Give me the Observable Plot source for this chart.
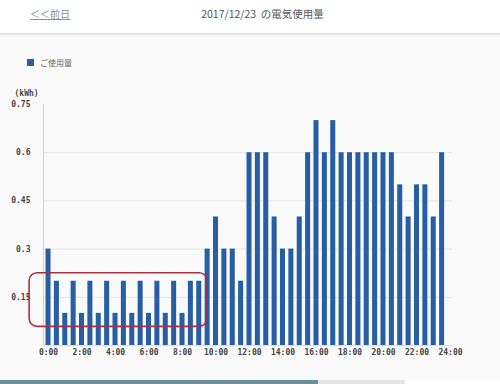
<!DOCTYPE html>
<html>
<head>
<meta charset="utf-8">
<script src="https://cdn.jsdelivr.net/npm/d3@7"></script>
<script src="https://cdn.jsdelivr.net/npm/@observablehq/plot@0.6"></script>
<style>
  html, body { margin: 0; padding: 0; width: 500px; height: 384px; overflow: hidden; background: #fff; font-family: "Noto Sans CJK JP", sans-serif; }
  #header { position: absolute; left: 0; top: 0; width: 500px; height: 33px; background: #fff; }
  #prev { position: absolute; left: 30px; top: 6px; font-size: 10px; color: #8a8f99; text-decoration: underline; }
  #title { position: absolute; left: 0; width: 525px; top: 6px; text-align: center; font-size: 10.5px; color: #555; }
  #panel { position: absolute; left: 0; top: 33px; width: 500px; height: 345px; background: #fafafa; border-top: 2px solid #e3e3e3; }
  #legend { position: absolute; left: 27px; top: 57px; font-size: 8px; color: #666; display: flex; align-items: center; }
  #legend .sw { width: 7px; height: 7px; background: #285ea3; margin-right: 6px; }
  #chart { position: absolute; left: 0; top: 80px; }
  #strip1 { position: absolute; left: 0; top: 380px; width: 318px; height: 4px; background: #6c8f98; }
  #strip2 { position: absolute; left: 318px; top: 380px; width: 87px; height: 4px; background: #e6e6e6; }
</style>
</head>
<body>
<div id="header">
  <div id="prev">＜＜前日</div>
  <div id="title">2017/12/23&nbsp;&nbsp;の電気使用量</div>
</div>
<div id="panel"></div>
<div id="legend"><div class="sw"></div><span>ご使用量</span></div>
<div id="chart"></div>
<div id="strip1"></div><div id="strip2"></div>
<script>
// Half-hour slots (hours since midnight)
const hours = [0,0.5,1,1.5,2,2.5,3,3.5,4,4.5,5,5.5,6,6.5,7,7.5,8,8.5,9,9.5,10,10.5,11,11.5,
               12,12.5,13,13.5,14,14.5,15,15.5,16,16.5,17,17.5,18,18.5,19,19.5,20,20.5,21,21.5,22,22.5,23,23.5];
// Usage (kWh) per half-hour
const usage = [0.3,0.2,0.1,0.2,0.1,0.2,0.1,0.2,0.1,0.2,0.1,0.2,0.1,0.2,0.1,0.2,0.1,0.2,0.2,0.3,0.4,0.3,0.3,0.2,
               0.6,0.6,0.6,0.4,0.3,0.3,0.4,0.6,0.7,0.6,0.7,0.6,0.6,0.6,0.6,0.6,0.6,0.6,0.5,0.4,0.5,0.5,0.4,0.6];
const xTicks = [0,2,4,6,8,10,12,14,16,18,20,22,24];
const yTicks = [0.15,0.3,0.45,0.6,0.75];
const yGrid = [0.15,0.3,0.45,0.6];
const xDomain = [-0.3, 24.12];
// highlight annotation (in data units)
const boxX = [-1.13, 9.5];
const boxY = [0.058, 0.225];

const data = hours.map((t, i) => ({t, v: usage[i]}));
const box = [{x1: boxX[0], x2: boxX[1], y1: boxY[0], y2: boxY[1]}];
const halfW = 0.15;

const chart = Plot.plot({
  width: 500, height: 290,
  marginLeft: 43, marginRight: 48, marginTop: 24, marginBottom: 25,
  x: {domain: xDomain, ticks: xTicks, tickFormat: d => d + ":00", tickSize: 0, tickPadding: 4, label: null},
  y: {domain: [0, 0.75], ticks: yTicks, tickFormat: d => String(d), tickSize: 0, tickPadding: 13, label: null},
  style: {fontFamily: "DejaVu Sans Mono", fontSize: "8px", fontWeight: "bold", background: "transparent", color: "#444"},
  marks: [
    Plot.ruleY(yGrid, {stroke: "#e6e6e6"}),
    Plot.ruleY([0], {stroke: "#dcdcdc"}),
    Plot.ruleX([xDomain[0]], {stroke: "#cfcfcf"}),
    Plot.rectY(data, {x1: d => d.t - halfW, x2: d => d.t + halfW, y: "v", fill: "#285ea3"}),
    Plot.rect(box, {x1: "x1", x2: "x2", y1: "y1", y2: "y2", fill: "none", stroke: "#a5303f", strokeWidth: 1.6, rx: 8}),
    Plot.text(["(kWh)"], {frameAnchor: "top-left", dx: -29, dy: -14, textAnchor: "start", fill: "#444"})
  ]
});
document.getElementById("chart").appendChild(chart);
</script>
</body>
</html>
